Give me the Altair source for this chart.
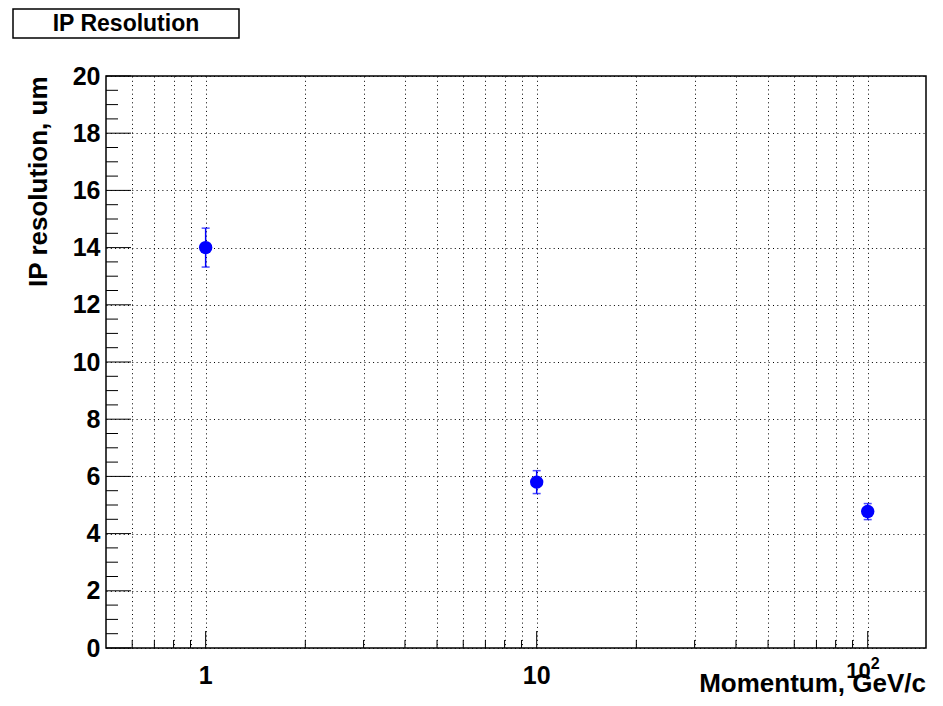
import altair as alt
import pandas as pd

# ---- data ----
momentum = [1, 10, 100]
resolution = [14.0, 5.8, 4.77]
resolution_err = [0.68, 0.40, 0.28]

y_major = [0, 2, 4, 6, 8, 10, 12, 14, 16, 18, 20]
y_minor = [v / 2 for v in range(0, 41) if v % 4 != 0]
x_major = [1, 10, 100]
x_minor = [0.6, 0.7, 0.8, 0.9, 2, 3, 4, 5, 6, 7, 8, 9,
           20, 30, 40, 50, 60, 70, 80, 90]
x_label_values = [1, 10]
x_label_texts = ["1", "10"]
x_pow_value = [100]
x_pow_base = ["10"]
x_pow_exp = ["2"]

title_text = "IP Resolution"
x_title = "Momentum, GeV/c"
y_title = "IP resolution, um"

W, H = 820, 572
FONT = "Liberation Sans"
BLUE = "#0000ff"
DASH = [1, 3.3]

xs = alt.Scale(type="log", domain=[0.5, 150], nice=False)
ys = alt.Scale(domain=[0, 20], nice=False, zero=False)

x_axis = alt.Axis(values=x_major + x_minor, grid=True, labels=False,
                  ticks=False, domain=False, title=None,
                  gridDash=DASH, gridColor="#000000", gridOpacity=1,
                  gridWidth=1)
y_axis = alt.Axis(values=y_major, grid=True, ticks=False, domain=False,
                  gridDash=DASH, gridColor="#000000", gridOpacity=1,
                  gridWidth=1,
                  labelFont=FONT, labelFontSize=25, labelFontWeight="bold",
                  labelColor="#000000", labelPadding=6,
                  title=y_title, titleFont=FONT, titleFontSize=26,
                  titleFontWeight="bold", titleColor="#000000",
                  titleAnchor="end", titleAngle=-90, titleAlign="right",
                  titleBaseline="alphabetic", titleX=-60, titleY=0)


def X(field):
    return alt.X(field, scale=xs, axis=x_axis)


def Y(field):
    return alt.Y(field, scale=ys, axis=y_axis, title=y_title)


df = pd.DataFrame({
    "p": momentum,
    "r": resolution,
    "lo": [r - e for r, e in zip(resolution, resolution_err)],
    "hi": [r + e for r, e in zip(resolution, resolution_err)],
})

points = alt.Chart(df).mark_circle(size=180, color=BLUE, opacity=1).encode(
    x=X("p:Q"), y=Y("r:Q"))

err_rule = alt.Chart(df).mark_rule(color=BLUE, strokeWidth=1.5).encode(
    x=X("p:Q"), y=Y("lo:Q"), y2="hi:Q")
cap_lo = alt.Chart(df).mark_tick(color=BLUE, orient="horizontal", size=8,
                                 thickness=1.5).encode(x=X("p:Q"), y=Y("lo:Q"))
cap_hi = alt.Chart(df).mark_tick(color=BLUE, orient="horizontal", size=8,
                                 thickness=1.5).encode(x=X("p:Q"), y=Y("hi:Q"))

# inward tick marks (ROOT style)
ymaj_t = alt.Chart(pd.DataFrame({"v": y_major})).mark_rule(
    color="#000000", strokeWidth=1).encode(
    y=Y("v:Q"), x=alt.value(0), x2=alt.value(25))
ymin_t = alt.Chart(pd.DataFrame({"v": y_minor})).mark_rule(
    color="#000000", strokeWidth=1).encode(
    y=Y("v:Q"), x=alt.value(0), x2=alt.value(12))
xmaj_t = alt.Chart(pd.DataFrame({"v": x_major})).mark_rule(
    color="#000000", strokeWidth=1).encode(
    x=X("v:Q"), y=alt.value(H), y2=alt.value(H - 17))
xmin_t = alt.Chart(pd.DataFrame({"v": x_minor})).mark_rule(
    color="#000000", strokeWidth=1).encode(
    x=X("v:Q"), y=alt.value(H), y2=alt.value(H - 8))

# x tick labels
xl = alt.Chart(pd.DataFrame({"v": x_label_values, "t": x_label_texts})).mark_text(
    font=FONT, fontSize=25, fontWeight="bold", align="center",
    baseline="alphabetic", color="#000000").encode(
    x=X("v:Q"), y=alt.value(H + 36), text="t:N")
xp_base = alt.Chart(pd.DataFrame({"v": x_pow_value, "t": x_pow_base})).mark_text(
    font=FONT, fontSize=22, fontWeight="bold", align="right", dx=3,
    baseline="alphabetic", color="#000000").encode(
    x=X("v:Q"), y=alt.value(H + 30), text="t:N")
xp_exp = alt.Chart(pd.DataFrame({"v": x_pow_value, "t": x_pow_exp})).mark_text(
    font=FONT, fontSize=16, fontWeight="bold", align="left", dx=3,
    baseline="alphabetic", color="#000000").encode(
    x=X("v:Q"), y=alt.value(H + 21), text="t:N")

# x axis title (right aligned, ROOT style)
xt = alt.Chart(pd.DataFrame({"t": [x_title]})).mark_text(
    font=FONT, fontSize=26, fontWeight="bold", align="right",
    baseline="alphabetic", color="#000000").encode(
    x=alt.value(W), y=alt.value(H + 44), text="t:N")

# title box
tbox = alt.Chart(pd.DataFrame({"t": [title_text]})).mark_rect(
    fill="#ffffff", stroke="#000000", strokeWidth=1.5).encode(
    x=alt.value(-93), x2=alt.value(133), y=alt.value(-67), y2=alt.value(-38))
ttext = alt.Chart(pd.DataFrame({"t": [title_text]})).mark_text(
    font=FONT, fontSize=23, fontWeight="bold", align="center",
    baseline="alphabetic", color="#000000").encode(
    x=alt.value(20), y=alt.value(-45), text="t:N")

chart = alt.layer(
    ymaj_t, ymin_t, xmaj_t, xmin_t, err_rule, cap_lo, cap_hi, points,
    xl, xp_base, xp_exp, xt, tbox, ttext,
).properties(
    width=W, height=H,
    autosize=alt.AutoSizeParams(type="none"),
    padding={"left": 98, "top": 68, "right": 8, "bottom": 48},
    background="#ffffff",
).configure_view(
    stroke="#000000", strokeWidth=1.5
)

chart.save("out.html", embed_options={"renderer": "svg", "actions": False})
